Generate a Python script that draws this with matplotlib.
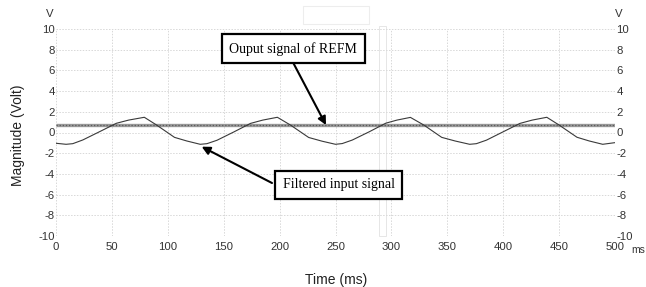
import matplotlib
matplotlib.use("Agg")
import matplotlib.pyplot as plt
from matplotlib.patches import Rectangle

plt.rcParams["axes.unicode_minus"] = False

# ---- data ----
time_ms = [0, 9, 15, 24, 39, 54, 65, 79, 90, 106, 117,
           129, 135, 144, 159, 174, 185, 198, 210, 226, 238,
           250, 256, 265, 280, 295, 305, 317, 329, 345, 357,
           370, 376, 385, 400, 415, 426, 439, 450, 466, 477,
           489, 500]
filtered_v = [-1.04, -1.14, -1.08, -0.72, 0.08, 0.89, 1.20, 1.47, 0.72, -0.47, -0.82,
              -1.14, -1.08, -0.75, 0.05, 0.88, 1.20, 1.47, 0.70, -0.48, -0.84,
              -1.14, -1.07, -0.73, 0.06, 0.90, 1.20, 1.46, 0.72, -0.47, -0.82,
              -1.14, -1.08, -0.74, 0.07, 0.88, 1.20, 1.47, 0.72, -0.46, -0.82,
              -1.14, -0.98]
refm_time = [0, 500]
refm_v = [0.70, 0.70]

x_ticks = [0, 50, 100, 150, 200, 250, 300, 350, 400, 450, 500]
y_ticks = [-10, -8, -6, -4, -2, 0, 2, 4, 6, 8, 10]

fig = plt.figure(figsize=(6.46, 2.87), dpi=100)
ax = fig.add_axes([56/646, 1-236/287, (615-56)/646, (236-29)/287])
ax.set_facecolor("none")

ax.set_xlim(0, 500)
ax.set_ylim(-10, 10)
ax.set_xticks(x_ticks)
ax.set_yticks(y_ticks)
for s in ax.spines.values():
    s.set_visible(False)
ax.grid(True, color="#d8d8d8", linestyle=(0, (1.5, 1.5)), linewidth=0.7)
ax.tick_params(axis="both", length=0, labelsize=8.2, colors="#333333")
ax.tick_params(axis="y", pad=1, labelleft=True, labelright=True)
ax.tick_params(axis="x", pad=4.5)
for lab in ax.get_xticklabels() + ax.get_yticklabels():
    lab.set_family("Liberation Sans")

# REFM output (thick noisy gray line)
ax.plot(refm_time, refm_v, color="#9a9a9a", lw=2.4, solid_capstyle="butt", zorder=3)
ax.plot(refm_time, refm_v, color="#5a5a5a", lw=0.9, linestyle=(0, (1, 1.5)), zorder=3)
# filtered input
ax.plot(time_ms, filtered_v, color="#3a3a3a", lw=0.8, zorder=4)

# axis labels
fig.text(18/646, 1-135/287, "Magnitude (Volt)", rotation=90, ha="center", va="center",
         fontsize=10, family="Liberation Sans", color="#222222")
fig.text(336/646, 1-280/287, "Time (ms)", ha="center", va="center",
         fontsize=10, family="Liberation Sans", color="#222222")
fig.text(50/646, 1-14/287, "V", ha="center", va="center", fontsize=8.2,
         family="Liberation Sans", color="#333333")
fig.text(619/646, 1-14/287, "V", ha="center", va="center", fontsize=8.2,
         family="Liberation Sans", color="#333333")
fig.text(645/646, 1-250/287, "ms", ha="right", va="center", fontsize=7.5,
         family="Liberation Sans", color="#333333")

# annotations
box = dict(boxstyle="square,pad=0.55", fc="white", ec="black", lw=1.6)
ax.text(212.3, 8.1, "Ouput signal of REFM", ha="center", va="center",
        fontsize=10, family="Liberation Serif", bbox=box, zorder=6)
ax.text(252.7, -5.07, "Filtered input signal", ha="center", va="center",
        fontsize=10, family="Liberation Serif", bbox=box, zorder=6)
arrow = dict(arrowstyle="-|>", color="black", lw=1.5, mutation_scale=12,
             shrinkA=0, shrinkB=0)
ax.annotate("", xy=(241.5, 0.72), xytext=(212.3, 6.71), arrowprops=arrow, zorder=5)
ax.annotate("", xy=(130.3, -1.37), xytext=(193.2, -4.88), arrowprops=arrow, zorder=5)

# faint artifacts from the source image
fig.patches.append(Rectangle((303/646, 1-24/287), 66/646, 18/287, transform=fig.transFigure,
                             fc="white", ec="#ededed", lw=0.8, zorder=-1))
fig.patches.append(Rectangle((379/646, 1-236/287), 7/646, 210/287, transform=fig.transFigure,
                             fc="none", ec="#e6e6e6", lw=0.7, zorder=-1))

fig.savefig("out.png", dpi=100)
